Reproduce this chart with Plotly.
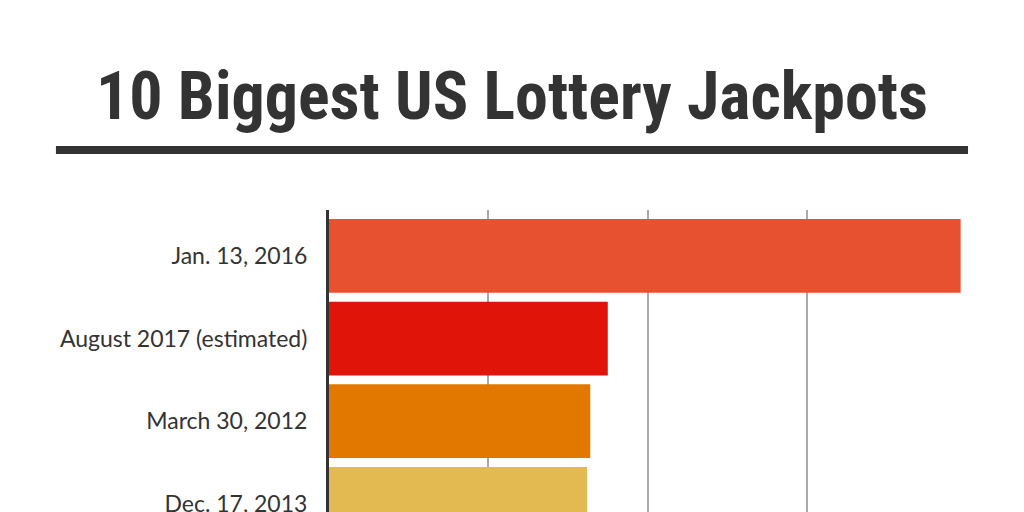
import plotly.graph_objects as go

# Data (values in millions of US dollars)
dates = ["Jan. 13, 2016", "August 2017 (estimated)", "March 30, 2012", "Dec. 17, 2013"]
jackpots = [1586, 700, 656, 648]
colors = ["#E8512F", "#E1140A", "#E27800", "#E3B952"]
x_grid = [0, 400, 800, 1200, 1600]

positions = list(range(len(dates)))

fig = go.Figure(
    go.Bar(
        x=jackpots,
        y=positions,
        orientation="h",
        marker=dict(color=colors, line=dict(width=0)),
        width=0.892,
        hoverinfo="x+text",
        text=dates,
        textposition="none",
    )
)

fig.update_layout(
    width=1008,
    height=504,
    margin=dict(l=321, r=49, t=202, b=0, pad=0, autoexpand=False),
    paper_bgcolor="white",
    plot_bgcolor="white",
    showlegend=False,
    title=dict(
        text="<b>10 Biggest US Lottery Jackpots</b>",
        font=dict(family="Roboto Condensed, Roboto, sans-serif",
                  size=66, color="#333333"),
        xref="container",
        yref="container",
        x=0.5,
        xanchor="center",
        y=0.8264,
        yanchor="middle",
    ),
    shapes=[
        dict(
            type="line",
            xref="paper",
            yref="paper",
            x0=-0.428,
            x1=1.0016,
            y0=1.1987,
            y1=1.1987,
            line=dict(color="#333333", width=8),
        )
    ],
)

fig.update_xaxes(
    range=[0, 1602],
    tickvals=x_grid,
    showticklabels=False,
    showgrid=True,
    gridcolor="#AAAAAA",
    gridwidth=2,
    zeroline=False,
    showline=False,
    ticks="",
    automargin=False,
)

fig.update_yaxes(
    range=[3.098, -0.554],
    tickvals=positions,
    ticktext=dates,
    showgrid=False,
    zeroline=False,
    showline=True,
    linecolor="#333333",
    linewidth=3,
    ticks="",
    ticklabelstandoff=14,
    ticklabeloverflow="allow",
    automargin=False,
    tickfont=dict(family="Lato, Noto Sans, sans-serif", size=23, color="#333333"),
)

fig.write_html("out.html")
